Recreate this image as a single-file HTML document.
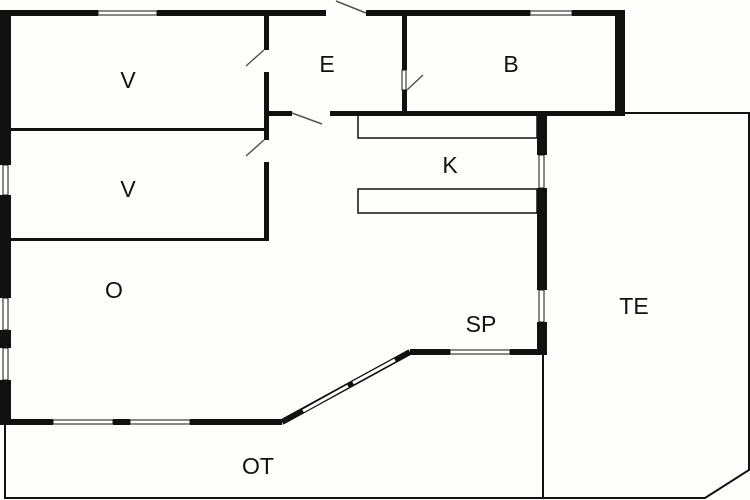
<!DOCTYPE html><html><head><style>body{margin:0;background:#fff}svg{display:block}text{font-family:"Liberation Sans",sans-serif;font-size:23px;fill:#111;text-anchor:middle}</style></head><body>
<svg width="750" height="500" viewBox="0 0 750 500">
<rect width="750" height="500" fill="#fefefd"/>
<g fill="none" stroke="#111">
<path d="M547 113 H749 V470 L705 498 H5 V422" stroke-width="2"/>
<line x1="543" y1="355" x2="543" y2="498" stroke-width="2"/>
<rect x="358" y="115" width="179" height="23" stroke-width="1.5"/>
<rect x="358" y="189" width="179" height="24" stroke-width="1.5"/>
</g>
<g fill="#111">
<rect x="0" y="10" width="98" height="6"/><rect x="157" y="10" width="169" height="6"/>
<rect x="366" y="10" width="164" height="6"/><rect x="572" y="10" width="53" height="6"/>
<rect x="615" y="10" width="10" height="106"/>
<rect x="0" y="10" width="11" height="155"/><rect x="0" y="195" width="11" height="103"/>
<rect x="0" y="330" width="11" height="18"/><rect x="0" y="380" width="11" height="45"/>
<rect x="5" y="419" width="48" height="6"/><rect x="113" y="419" width="17" height="6"/><rect x="190" y="419" width="92" height="6"/>
<rect x="410" y="349" width="40" height="6"/><rect x="510" y="349" width="37" height="6"/>
<rect x="537" y="113" width="10" height="42"/><rect x="537" y="188" width="10" height="102"/><rect x="537" y="322" width="10" height="33"/>
<rect x="330" y="111" width="295" height="5"/><rect x="266" y="111" width="26" height="5"/>
<rect x="264" y="13" width="5" height="37"/><rect x="264" y="72" width="5" height="68"/><rect x="264" y="162" width="5" height="79"/>
<rect x="402" y="13" width="5" height="57"/><rect x="402" y="90" width="5" height="23"/>
<rect x="11" y="128" width="255" height="3"/><rect x="11" y="238" width="258" height="3"/>
</g>
<path d="M282 422 L410 352" stroke="#111" stroke-width="6" fill="none"/>
<path d="M303 411 L348 386 M353 383 L395 360" stroke="#fff" stroke-width="3" fill="none"/>
<g fill="#fff" stroke="#111" stroke-width="1">
<rect x="98" y="11" width="59" height="4"/><rect x="530" y="11" width="42" height="4"/>
<rect x="3" y="165" width="5" height="30"/><rect x="3" y="298" width="5" height="32"/><rect x="3" y="348" width="5" height="32"/>
<rect x="53" y="420" width="60" height="4"/><rect x="130" y="420" width="60" height="4"/>
<rect x="450" y="350" width="60" height="4"/>
<rect x="539" y="155" width="5" height="33"/><rect x="539" y="290" width="5" height="32"/>
<rect x="402" y="70" width="4" height="20"/>
</g>
<g stroke="#555" stroke-width="1.5">
<line x1="264" y1="50" x2="246" y2="66"/><line x1="264" y1="140" x2="246" y2="156"/>
<line x1="292" y1="113" x2="322" y2="124"/><line x1="366" y1="13" x2="336" y2="1"/>
<line x1="407" y1="90" x2="423" y2="75"/>
</g>
<text x="128" y="88">V</text><text x="128" y="197">V</text><text x="327" y="72">E</text>
<text x="511" y="72">B</text><text x="450" y="173">K</text><text x="114" y="298">O</text>
<text x="481" y="332">SP</text><text x="634" y="314">TE</text><text x="258" y="474">OT</text>
</svg></body></html>
